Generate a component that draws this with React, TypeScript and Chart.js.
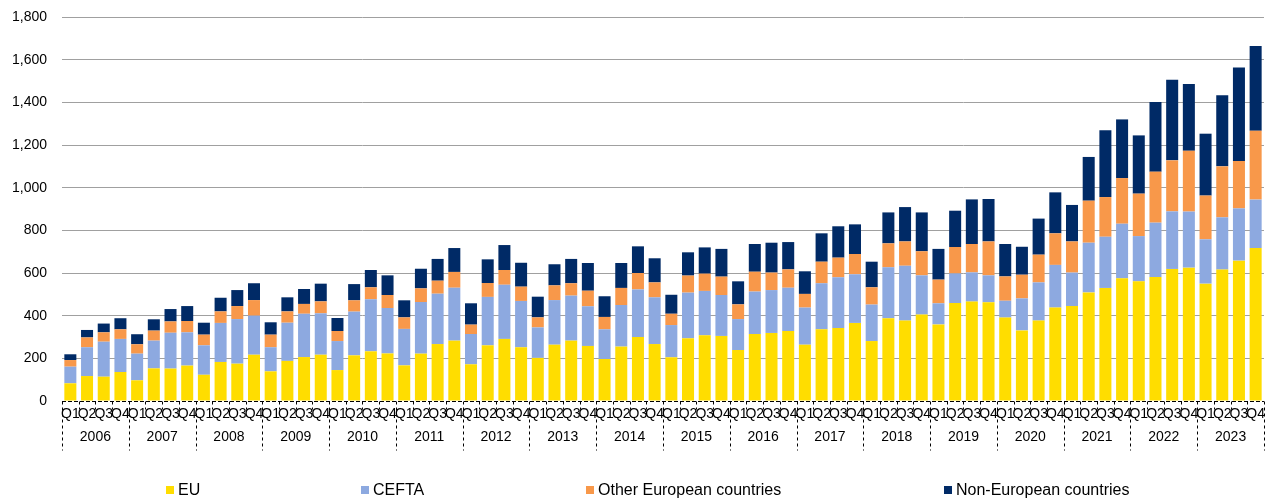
import React, { useEffect, useRef } from "react";
import { Chart, registerables } from "chart.js";

Chart.register(...registerables);

const years = ["2006","2007","2008","2009","2010","2011","2012","2013","2014","2015","2016","2017","2018","2019","2020","2021","2022","2023"];
const quarters = ["Q1", "Q2", "Q3", "Q4"];
const categories = years.flatMap((y) => quarters.map((q) => `${y} ${q}`));
const yTicks = [0, 200, 400, 600, 800, 1000, 1200, 1400, 1600, 1800];

const euValues = [
  83,117,114,136, 97,153,152,166, 123,183,175,217, 139,188,206,217,
  145,214,233,223, 167,222,267,283, 172,261,291,252, 202,264,283,258,
  197,255,300,267, 205,294,308,305, 239,314,319,328, 264,336,342,366,
  281,388,377,405, 359,459,466,463, 391,331,377,438, 445,509,530,575,
  561,581,619,625, 550,616,658,717,
];
const ceftaValues = [
  78,135,164,155, 125,130,168,156, 138,183,209,183, 113,179,203,194,
  136,205,244,213, 171,242,236,248, 142,227,254,217, 143,209,211,186,
  139,195,223,219, 151,214,208,192, 145,199,201,203, 174,216,238,228,
  171,239,257,184, 99,139,137,126, 79,150,179,200, 157,233,240,256,
  212,255,270,263, 208,245,245,227,
];
const otherEuropeanValues = [
  31,46,44,45, 44,47,53,53, 50,54,61,73, 59,53,46,56,
  47,53,56,61, 54,64,61,74, 44,65,69,67, 47,69,58,73,
  58,80,77,70, 53,80,81,86, 69,93,82,86, 64,101,92,95,
  81,112,114,113, 111,124,133,159, 114,111,130,148, 146,197,186,214,
  199,239,239,285, 205,239,222,323,
];
const nonEuropeanValues = [
  27,35,41,52, 47,53,58,70, 56,64,75,79, 58,66,70,83,
  61,76,81,92, 80,92,102,112, 100,111,117,112, 97,99,114,130,
  97,117,125,113, 89,109,123,130, 108,130,140,128, 106,133,147,139,
  120,145,161,182, 144,170,209,199, 152,131,169,192, 171,205,313,275,
  273,327,378,313, 290,333,438,397,
];

const seriesNames = ["EU", "CEFTA", "Other European countries", "Non-European countries"];
const seriesColors = ["#FFDD00", "#8DA9E0", "#F8984A", "#002A66"];

const FONT = "'Liberation Sans', Arial, sans-serif";

const groupAxisPlugin = {
  id: "groupAxis",
  afterDraw(chart: any) {
    const { ctx, chartArea } = chart;
    const x = chart.scales.x;
    const n = categories.length;
    const w = (chartArea.right - chartArea.left) / n;
    const y0 = Math.round(chartArea.bottom) + 0.5;
    ctx.save();
    ctx.strokeStyle = "#000";
    ctx.lineWidth = 1;
    ctx.setLineDash([4, 2]);
    ctx.beginPath();
    ctx.moveTo(chartArea.left, y0);
    ctx.lineTo(chartArea.right, y0);
    ctx.stroke();
    ctx.setLineDash([3, 3]);
    for (let i = 0; i <= n; i++) {
      const px = Math.round(chartArea.left + i * w) + 0.5;
      const isYear = i % 4 === 0;
      ctx.beginPath();
      ctx.moveTo(px, y0);
      ctx.lineTo(px, y0 + (isYear ? 49 : 8));
      ctx.stroke();
    }
    ctx.setLineDash([]);
    ctx.fillStyle = "#000";
    ctx.font = `14px ${FONT}`;
    ctx.textAlign = "center";
    ctx.textBaseline = "middle";
    years.forEach((yr, k) => {
      const a = x.getPixelForValue(k * 4);
      const b = x.getPixelForValue(k * 4 + 3);
      ctx.fillText(yr, (a + b) / 2, y0 + 36);
    });
    ctx.restore();
  },
};

export default function App() {
  const canvasRef = useRef<HTMLCanvasElement | null>(null);

  useEffect(() => {
    document.body.style.margin = "0";
    const canvas = canvasRef.current;
    if (!canvas) return;
    const values = [euValues, ceftaValues, otherEuropeanValues, nonEuropeanValues];
    const chart = new Chart(canvas, {
      type: "bar",
      data: {
        labels: categories,
        datasets: seriesNames.map((name, i) => ({
          label: name,
          data: values[i],
          backgroundColor: seriesColors[i],
          borderWidth: 0,
          barPercentage: 0.72,
          categoryPercentage: 1,
        })),
      },
      plugins: [groupAxisPlugin],
      options: {
        responsive: false,
        animation: false,
        layout: { padding: { top: 0, right: 3, left: 0, bottom: 0 } },
        plugins: {
          legend: { display: false },
          tooltip: { enabled: false },
        },
        scales: {
          x: {
            stacked: true,
            grid: { display: false, drawTicks: false },
            border: { display: false },
            ticks: {
              autoSkip: false,
              maxRotation: 0,
              minRotation: 0,
              padding: 5,
              color: "#000",
              font: { family: FONT, size: 14 },
              callback: (_v: any, i: number) => quarters[i % 4],
            },
            afterFit: (s: any) => {
              s.height = 100;
            },
          },
          y: {
            stacked: true,
            min: 0,
            max: 1800,
            afterBuildTicks: (s: any) => {
              s.ticks = yTicks.map((v) => ({ value: v }));
            },
            grid: {
              drawTicks: false,
              color: (c: any) => (c.tick && c.tick.value === 0 ? "rgba(0,0,0,0)" : "#A0A0A0"),
              lineWidth: 1,
            },
            border: { display: false },
            ticks: {
              padding: 15,
              color: "#000",
              font: { family: FONT, size: 14 },
              callback: (v: any) => Number(v).toLocaleString("en-US"),
            },
            afterFit: (s: any) => {
              s.width = 62;
              s.paddingTop = 17;
              s.paddingBottom = 0;
            },
          },
        },
      },
    });
    return () => chart.destroy();
  }, []);

  const legendLeft = [166, 361, 586, 944];

  return (
    <div style={{ position: "relative", width: 1270, height: 501 }}>
      <canvas ref={canvasRef} width={1270} height={501} style={{ width: 1270, height: 501, display: "block" }} />
      {seriesNames.map((name, i) => (
        <div
          key={name}
          style={{
            position: "absolute",
            left: legendLeft[i],
            top: 480,
            height: 20,
            display: "flex",
            alignItems: "center",
            fontFamily: FONT,
            fontSize: 16,
            color: "#000",
            whiteSpace: "nowrap",
          }}
        >
          <span style={{ display: "inline-block", width: 8, height: 8, background: seriesColors[i], marginRight: 4 }} />
          <span>{name}</span>
        </div>
      ))}
    </div>
  );
}
